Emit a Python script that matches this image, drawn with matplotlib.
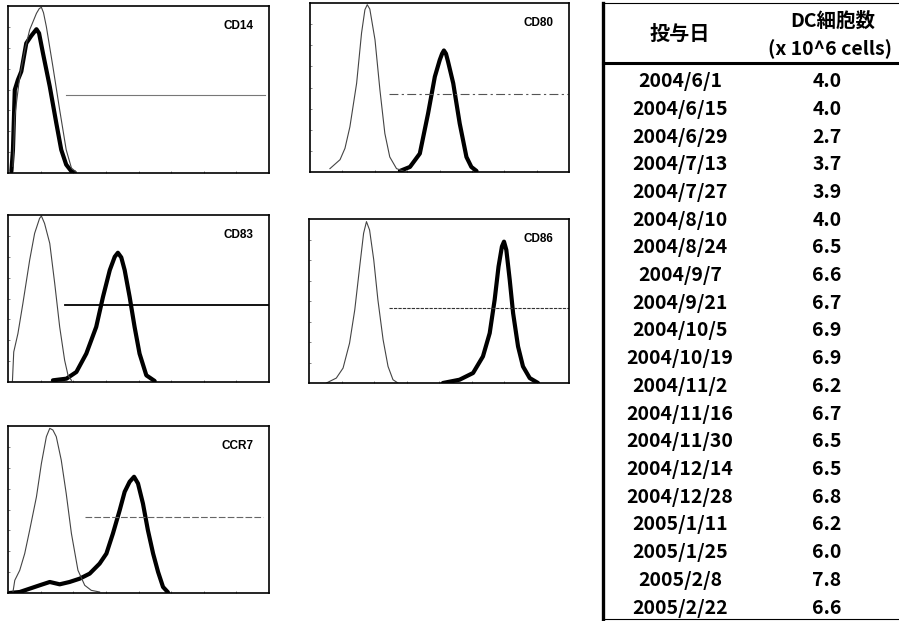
import matplotlib
matplotlib.use("Agg")
import matplotlib.pyplot as plt
from matplotlib.lines import Line2D

plt.rcParams['font.family'] = ['Noto Sans CJK JP', 'DejaVu Sans']

# FACS histograms: x = relative fluorescence (0-100), y = % of max count
# isotype control (thin) and marker staining (thick) for each antigen
markers = ["CD14", "CD80", "CD83", "CD86", "CCR7"]

cd14_ctrl_x = [1.9, 2.6, 4.5, 6.5, 8.3, 10.9, 12.0, 12.8, 13.6, 14.7, 17.2, 19.8, 22.3, 24.3, 26.2]
cd14_ctrl_y = [4.0, 33.9, 57.8, 74.0, 85.7, 95.6, 98.5, 99.2, 96.0, 87.6, 63.7, 37.8, 13.9, 3.0, 0.4]
cd14_stain_x = [1.3, 1.9, 2.6, 3.8, 5.1, 7.0, 8.9, 10.9, 11.9, 13.4, 16.0, 18.5, 20.4, 22.3, 24.3, 25.5]
cd14_stain_y = [1.0, 13.9, 49.8, 55.8, 60.8, 77.7, 82.1, 86.1, 83.7, 71.7, 51.8, 29.9, 13.9, 5.0, 1.0, 0.4]

cd80_ctrl_x = [7.7, 11.6, 13.5, 15.4, 18.0, 19.9, 21.2, 22.1, 23.1, 25.1, 27.0, 28.9, 30.8, 33.4, 36.0]
cd80_ctrl_y = [2.0, 7.3, 14.0, 26.7, 52.5, 82.2, 96.0, 99.0, 96.4, 78.2, 48.5, 22.8, 8.9, 2.0, 0.6]
cd80_stain_x = [34.7, 38.6, 42.4, 45.6, 48.2, 50.1, 51.0, 51.7, 52.5, 53.3, 55.3, 57.8, 60.4, 62.3, 64.3]
cd80_stain_y = [0.6, 3.0, 10.9, 34.7, 56.4, 66.3, 70.0, 71.9, 70.0, 65.3, 52.5, 28.7, 8.9, 3.0, 0.6]

cd83_ctrl_x = [1.7, 2.2, 3.8, 5.7, 8.3, 10.2, 12.1, 12.8, 14.0, 16.0, 17.9, 19.8, 21.7, 23.0, 24.3]
cd83_ctrl_y = [0.6, 18.0, 29.0, 47.0, 73.0, 89.0, 98.0, 99.4, 95.0, 83.0, 59.0, 33.0, 13.0, 4.0, 1.0]
cd83_stain_x = [17.2, 22.4, 26.2, 30.0, 33.8, 36.4, 39.0, 40.9, 42.1, 43.4, 44.7, 46.6, 48.5, 50.4, 53.0, 56.2]
cd83_stain_y = [1.0, 2.0, 6.0, 17.0, 33.0, 51.0, 67.0, 75.0, 77.4, 74.6, 67.0, 51.0, 33.0, 17.0, 4.0, 0.6]

cd86_ctrl_x = [6.7, 10.5, 13.1, 15.6, 17.6, 19.5, 21.0, 22.1, 23.3, 24.9, 26.5, 28.5, 30.4, 32.3, 34.2]
cd86_ctrl_y = [0.0, 3.0, 9.1, 24.3, 44.6, 71.0, 91.3, 98.4, 93.3, 75.1, 50.7, 26.4, 10.1, 2.0, 0.0]
cd86_stain_x = [51.5, 57.9, 63.1, 66.9, 69.5, 71.4, 72.9, 74.2, 75.0, 75.9, 77.2, 78.5, 80.4, 82.3, 84.9, 88.1]
cd86_stain_y = [0.0, 2.0, 6.1, 16.2, 30.4, 50.7, 71.0, 83.2, 86.2, 81.1, 62.9, 42.6, 22.3, 10.1, 3.0, 0.0]

ccr7_ctrl_x = [1.9, 2.6, 4.5, 6.4, 8.3, 10.9, 12.8, 14.7, 16.0, 17.2, 18.5, 20.4, 22.3, 24.3, 26.8, 29.4, 31.9, 35.1]
ccr7_ctrl_y = [0.6, 7.6, 13.6, 23.6, 37.6, 57.6, 77.6, 93.6, 98.6, 97.6, 93.6, 79.6, 59.6, 35.6, 13.6, 4.6, 1.6, 0.6]
ccr7_stain_x = [0.6, 4.5, 8.3, 12.1, 16.0, 19.8, 23.6, 27.5, 31.3, 35.1, 37.7, 40.2, 42.8, 44.7, 46.6, 48.3,
                49.8, 51.7, 53.6, 55.6, 57.5, 59.4, 61.3]
ccr7_stain_y = [0.0, 0.6, 2.6, 4.6, 6.6, 5.2, 6.6, 8.6, 11.6, 17.6, 23.6, 35.6, 49.6, 60.6, 66.6, 69.6,
                65.6, 53.6, 37.6, 23.6, 12.6, 3.6, 0.4]

# positive-gate marker level (% of max) and its start / end on the fluorescence axis
gate_level = [46.8, 46.1, 46.0, 46.0, 45.6]
gate_start = [22.3, 30.6, 21.7, 30.8, 29.4]
gate_end = [98.3, 99.6, 100.0, 100.0, 97.7]

# DC vaccine table
dose_dates = ["2004/6/1", "2004/6/15", "2004/6/29", "2004/7/13", "2004/7/27", "2004/8/10",
              "2004/8/24", "2004/9/7", "2004/9/21", "2004/10/5", "2004/10/19", "2004/11/2",
              "2004/11/16", "2004/11/30", "2004/12/14", "2004/12/28", "2005/1/11", "2005/1/25",
              "2005/2/8", "2005/2/22"]
dc_counts = [4.0, 4.0, 2.7, 3.7, 3.9, 4.0, 6.5, 6.6, 6.7, 6.9, 6.9, 6.2, 6.7, 6.5, 6.5, 6.8,
             6.2, 6.0, 7.8, 6.6]

W, H = 899, 621
fig = plt.figure(figsize=(W / 100, H / 100), dpi=100)


def px_axes(x0, y0, x1, y1):
    # pixel box (top-left origin) -> axes
    return fig.add_axes([x0 / W, 1 - y1 / H, (x1 - x0) / W, (y1 - y0) / H])


boxes = [(8, 6, 269, 173), (310, 3, 569, 172), (8, 215, 269, 382),
         (309, 219, 569, 383), (8, 426, 269, 593)]
curves = [(cd14_ctrl_x, cd14_ctrl_y, cd14_stain_x, cd14_stain_y),
          (cd80_ctrl_x, cd80_ctrl_y, cd80_stain_x, cd80_stain_y),
          (cd83_ctrl_x, cd83_ctrl_y, cd83_stain_x, cd83_stain_y),
          (cd86_ctrl_x, cd86_ctrl_y, cd86_stain_x, cd86_stain_y),
          (ccr7_ctrl_x, ccr7_ctrl_y, ccr7_stain_x, ccr7_stain_y)]
gate_styles = [dict(color='#777777', lw=0.8, ls='-'),
               dict(color='#555555', lw=0.8, ls=(0, (8, 3, 2, 3))),
               dict(color='black', lw=1.3, ls='-'),
               dict(color='#333333', lw=0.8, ls=(0, (3, 1))),
               dict(color='#666666', lw=0.8, ls=(0, (6, 2)))]

for i, name in enumerate(markers):
    ax = px_axes(*boxes[i])
    cx, cy, sx, sy = curves[i]
    ax.plot(sx, sy, color='black', lw=3.0, solid_joinstyle='round', solid_capstyle='round')
    ax.plot(cx, cy, color='#444444', lw=0.8, solid_joinstyle='round')
    ax.plot([gate_start[i], gate_end[i]], [gate_level[i], gate_level[i]], **gate_styles[i])
    ax.text(0.94, 0.88, name, transform=ax.transAxes, ha='right', va='center',
            fontsize=8.5, fontweight='bold', family=['Liberation Sans', 'DejaVu Sans'])
    ax.set_xlim(0, 100)
    ax.set_ylim(0, 100)
    ax.set_xticks([12.5, 25, 37.5, 50, 62.5, 75, 87.5])
    ax.set_yticks([12.5, 25, 37.5, 50, 62.5, 75, 87.5])
    ax.tick_params(direction='in', length=1.5, width=0.5, color='#555555',
                   labelbottom=False, labelleft=False)
    for sp in ax.spines.values():
        sp.set_linewidth(1.2)
        sp.set_zorder(5)

# table drawn in pixel space
tab = fig.add_axes([0, 0, 1, 1])
tab.set_xlim(0, W)
tab.set_ylim(H, 0)
tab.axis('off')

tab.add_line(Line2D([603, 603], [3, 620], color='black', lw=2.4))
tab.add_line(Line2D([603, 899], [3, 3], color='black', lw=0.8))
tab.add_line(Line2D([603, 899], [63, 63], color='black', lw=2.2))
tab.add_line(Line2D([603, 899], [619, 619], color='black', lw=0.8))

tab.text(680, 33, "投与日", ha='center', va='center', fontsize=14.5, fontweight='bold')
tab.text(833, 21, "DC細胞数", ha='center', va='center', fontsize=14, fontweight='bold')
tab.text(830, 49, "(x 10^6 cells)", ha='center', va='center', fontsize=14, fontweight='bold')

row0, step = 81.7, 27.7
for r, (d, v) in enumerate(zip(dose_dates, dc_counts)):
    y = row0 + r * step
    tab.text(680, y, d, ha='center', va='center', fontsize=14, fontweight='bold')
    tab.text(827, y, f"{v:.1f}", ha='center', va='center', fontsize=14, fontweight='bold')

fig.savefig("out.png", dpi=100)
